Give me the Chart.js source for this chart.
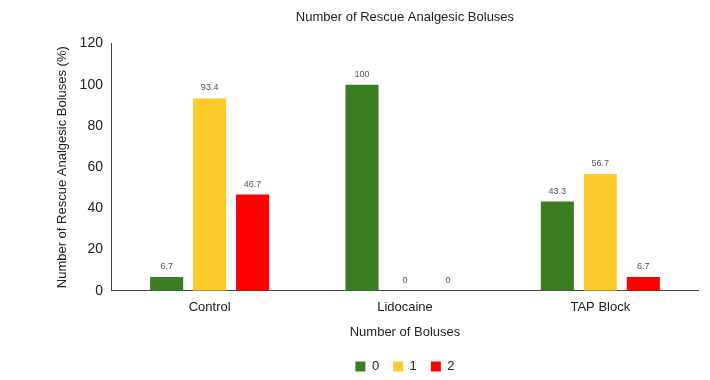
<!DOCTYPE html>
<html>
<head>
<meta charset="utf-8">
<script src="https://cdn.jsdelivr.net/npm/chart.js@4"></script>
<style>
  html, body { margin: 0; padding: 0; background: #fff; }
  #wrap { width: 710px; height: 380px; }
</style>
</head>
<body>
<div id="wrap"><canvas id="graphBolus"></canvas></div>
<script>
var groupes = ['Control', 'Lidocaine', 'TAP Block'];
var serie0 = [6.7, 100, 43.3];
var serie1 = [93.4, 0, 56.7];
var serie2 = [46.7, 0, 6.7];
var seriesNoms = ['0', '1', '2'];
var couleurs = ['#3a7d22', '#fdca2b', '#ff0000'];

Chart.defaults.font.family = '"Liberation Sans", Arial, sans-serif';
Chart.defaults.color = '#222';

// etiquettes au dessus des barres
var etiquettes = {
  id: 'etiquettes',
  afterDatasetsDraw: function(chart) {
    var ctx = chart.ctx;
    ctx.save();
    ctx.font = '9px "Liberation Sans", Arial, sans-serif';
    ctx.fillStyle = '#555';
    ctx.textAlign = 'center';
    ctx.textBaseline = 'bottom';
    chart.data.datasets.forEach(function(ds, i) {
      chart.getDatasetMeta(i).data.forEach(function(bar, j) {
        ctx.fillText(String(ds.data[j]), bar.x, bar.y - 6);
      });
    });
    ctx.restore();
  }
};

var data = {
  labels: groupes,
  datasets: [serie0, serie1, serie2].map(function(vals, i) {
    return {
      label: seriesNoms[i],
      data: vals,
      backgroundColor: couleurs[i],
      borderWidth: 0,
      categoryPercentage: 0.66,
      barPercentage: 0.77
    };
  })
};

var options = {
  responsive: true,
  maintainAspectRatio: false,
  animation: false,
  layout: { padding: { left: 10, right: 12, top: 6, bottom: -3 } },
  plugins: {
    title: {
      display: true,
      fullSize: false,
      text: 'Number of Rescue Analgesic Boluses',
      font: { size: 13, weight: 'normal' },
      color: '#222',
      padding: { top: 4, bottom: 18 }
    },
    legend: {
      position: 'bottom',
      fullSize: false,
      labels: { boxWidth: 10, boxHeight: 10, font: { size: 13 }, padding: 14 }
    },
    tooltip: { enabled: false }
  },
  scales: {
    x: {
      grid: { display: false, drawTicks: false },
      border: { color: '#444' },
      ticks: { font: { size: 13 }, padding: 9 },
      title: { display: true, text: 'Number of Boluses', font: { size: 13 }, padding: { top: 0, bottom: 6 } }
    },
    y: {
      min: 0,
      max: 120,
      grid: { display: false, drawTicks: true, tickLength: 5, tickColor: '#444' },
      border: { color: '#444' },
      ticks: { stepSize: 20, font: { size: 14 }, padding: 4 },
      title: { display: true, text: 'Number of Rescue Analgesic Boluses (%)', font: { size: 13 }, padding: { top: 45, bottom: 5 } }
    }
  }
};

var ctx1 = document.getElementById('graphBolus').getContext('2d');
new Chart(ctx1, { type: 'bar', data: data, options: options, plugins: [etiquettes] });
</script>
</body>
</html>
